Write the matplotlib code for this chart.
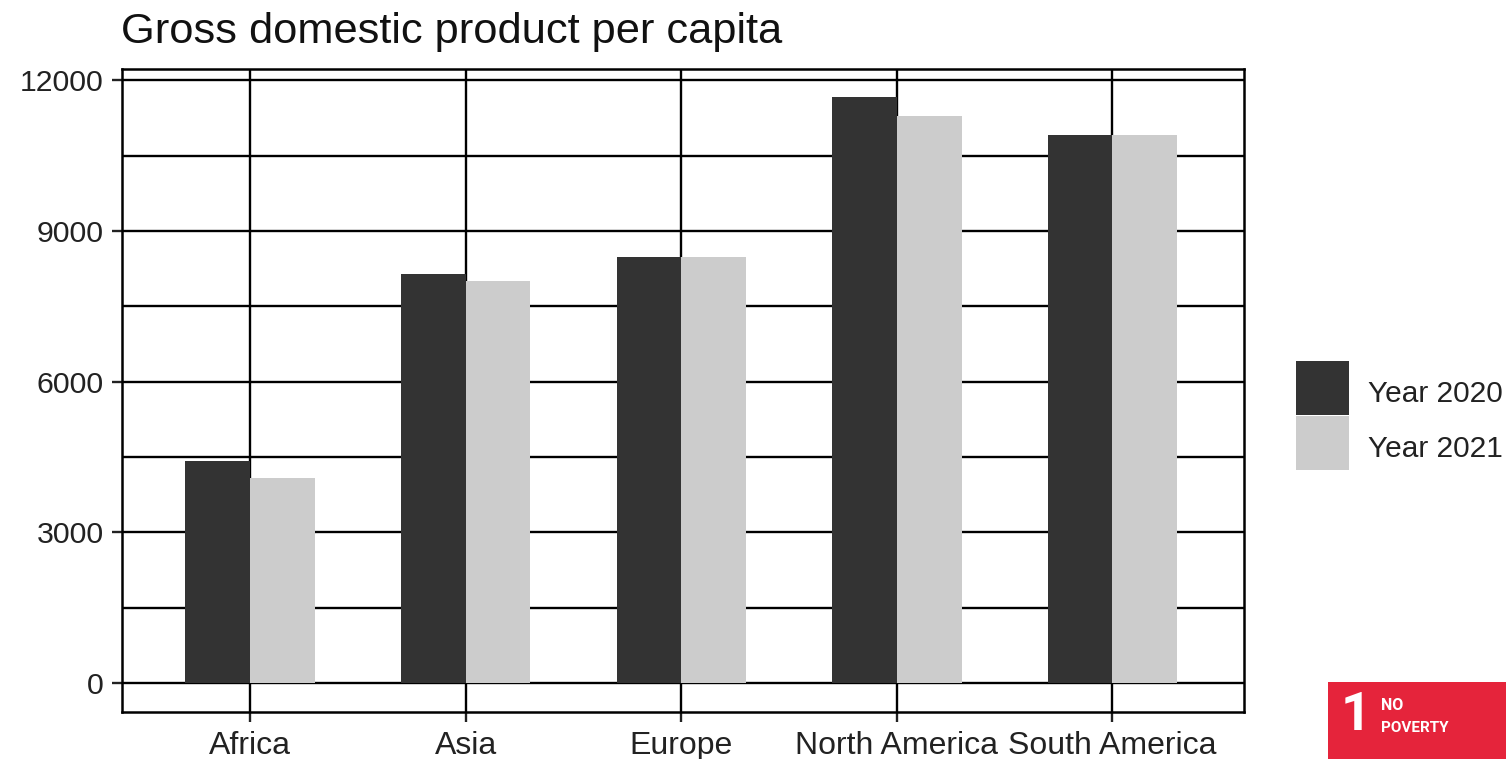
import matplotlib
matplotlib.use("Agg")
import matplotlib.pyplot as plt
from matplotlib.patches import Rectangle
import numpy as np

plt.rcParams['font.family'] = ['Liberation Sans', 'DejaVu Sans']

categories = ["Africa", "Asia", "Europe", "North America", "South America"]
year_2020 = [4420, 8150, 8490, 11670, 10910]
year_2021 = [4085, 8010, 8490, 11295, 10910]
y_ticks = [0, 3000, 6000, 9000, 12000]
y_minor = [1500, 4500, 7500, 10500]
series_labels = ["Year 2020", "Year 2021"]
title = "Gross domestic product per capita"
W, H = 1506, 759
dark, light = "#333333", "#CCCCCC"
logo_font = ['Roboto', 'DejaVu Sans']

fig = plt.figure(figsize=(W/100, H/100), dpi=100)
ax = fig.add_axes([122/W, 1-712/H, (1244-122)/W, (712-69)/H])
x = np.arange(len(categories))
w = 0.3
ax.set_axisbelow(True)
ax.grid(True, which='major', color='black', lw=1.7)
ax.set_yticks(y_minor, minor=True)
ax.grid(True, which='minor', axis='y', color='black', lw=1.7)
ax.tick_params(which='minor', length=0)
ax.bar(x-w/2, year_2020, w, color=dark, label=series_labels[0])
ax.bar(x+w/2, year_2021, w, color=light, label=series_labels[1])
ax.set_xticks(x, categories)
ax.set_yticks(y_ticks)
ax.set_xlim(-0.594, 4.61)
ax.set_ylim(-578, 12229)
ax.tick_params(axis='x', which='major', labelsize=23, width=1.7, length=7, colors='#222222', pad=7)
ax.tick_params(axis='y', which='major', labelsize=21.8, width=1.7, length=7, colors='#222222', pad=6)
for s in ax.spines.values():
    s.set_linewidth(1.8)
    s.set_color('black')
fig.text(121/W, 1-43/H, title, fontsize=31.2, color='#111111')

for i, (lab, col) in enumerate(zip(series_labels, [dark, light])):
    top = 361 + i*55
    fig.add_artist(Rectangle((1296/W, 1-(top+54)/H), 53/W, 54/H, transform=fig.transFigure, color=col, lw=0))
    fig.text(1368/W, 1-(top+33)/H, lab, fontsize=21.5, color='#222222', va='center')

fig.add_artist(Rectangle((1328/W, 0), 178/W, 77/H, transform=fig.transFigure, color="#E5243B", lw=0))
fig.text(1356/W, 1-715/H, "1", fontsize=38, color='white', weight='bold', ha='center', va='center', family=logo_font)
fig.text(1381/W, 1-705.5/H, "NO", fontsize=11.5, color='white', weight='bold', ha='left', va='center', family=logo_font)
fig.text(1381/W, 1-728.5/H, "POVERTY", fontsize=11, color='white', weight='bold', ha='left', va='center', family=logo_font)

fig.savefig("out.png", dpi=100)
